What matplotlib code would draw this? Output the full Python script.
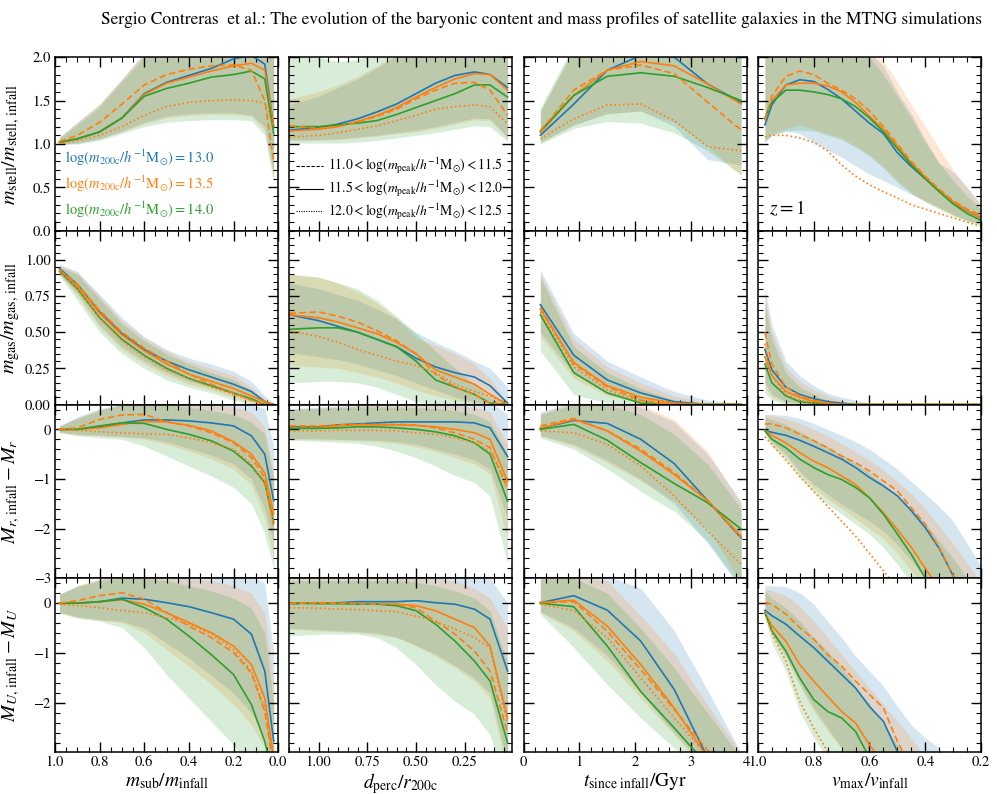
import numpy as np
import matplotlib.pyplot as plt
from matplotlib.lines import Line2D
from matplotlib.ticker import MultipleLocator

plt.rcParams['font.family'] = 'STIXGeneral'
plt.rcParams['mathtext.fontset'] = 'stix'
plt.rcParams['axes.linewidth'] = 1.1

blue, orange, green = '#1f77b4', '#ff7f0e', '#2ca02c'

# x grids of the four columns
x_sub = [0.98, 0.9, 0.8, 0.7, 0.6, 0.5, 0.4, 0.3, 0.2, 0.12, 0.06, 0.02]
x_perc = [1.15, 1.0, 0.9, 0.8, 0.7, 0.6, 0.5, 0.4, 0.3, 0.2, 0.12, 0.03]
x_time = [0.3, 0.9, 1.5, 2.1, 2.7, 3.3, 3.9]
x_vmax = [0.975, 0.95, 0.9, 0.85, 0.8, 0.75, 0.7, 0.65, 0.6, 0.55, 0.5, 0.45, 0.4, 0.35, 0.3, 0.25, 0.2]

# keys: b/o/g = median for log m200c 13.0/13.5/14.0 (11.5-12.0 bin),
# od/ot = orange 11.0-11.5 (dashed) and 12.0-12.5 (dotted), *_lo/*_hi = bands
# ---- row 1: stellar mass
stell_sub = dict(
    b=[1.02, 1.06, 1.14, 1.30, 1.58, 1.71, 1.79, 1.87, 1.98, 2.02, 1.92, 1.20],
    o=[1.02, 1.06, 1.14, 1.30, 1.57, 1.70, 1.77, 1.84, 1.90, 1.93, 1.85, 1.20],
    g=[1.02, 1.06, 1.14, 1.30, 1.55, 1.64, 1.70, 1.77, 1.80, 1.84, 1.75, 1.12],
    od=[1.03, 1.10, 1.25, 1.46, 1.68, 1.80, 1.86, 1.90, 1.91, 1.85, 1.50, 0.80],
    ot=[1.01, 1.04, 1.10, 1.20, 1.33, 1.43, 1.48, 1.50, 1.51, 1.50, 1.47, 1.20],
    b_lo=[1.0, 1.01, 1.06, 1.15, 1.25, 1.32, 1.35, 1.36, 1.36, 1.33, 1.2, 0.65],
    b_hi=[1.08, 1.25, 1.46, 1.75, 2.05, 2.3, 2.5, 2.6, 2.7, 2.7, 2.6, 2.1],
    o_lo=[1.0, 1.01, 1.06, 1.14, 1.23, 1.3, 1.33, 1.34, 1.34, 1.32, 1.15, 0.6],
    o_hi=[1.08, 1.25, 1.46, 1.75, 2.05, 2.3, 2.5, 2.6, 2.7, 2.7, 2.6, 2.1],
    g_lo=[0.99, 1.0, 1.04, 1.12, 1.2, 1.25, 1.27, 1.28, 1.28, 1.27, 1.1, 0.55],
    g_hi=[1.07, 1.22, 1.43, 1.72, 2.0, 2.25, 2.45, 2.55, 2.6, 2.6, 2.5, 2.0],
)
stell_perc = dict(
    b=[1.16, 1.19, 1.23, 1.29, 1.37, 1.46, 1.58, 1.70, 1.79, 1.83, 1.80, 1.65],
    o=[1.15, 1.17, 1.20, 1.26, 1.33, 1.42, 1.54, 1.65, 1.75, 1.81, 1.80, 1.62],
    g=[1.20, 1.20, 1.22, 1.24, 1.27, 1.34, 1.42, 1.50, 1.58, 1.68, 1.68, 1.54],
    od=[1.21, 1.18, 1.20, 1.25, 1.32, 1.40, 1.52, 1.62, 1.70, 1.71, 1.62, 1.33],
    ot=[1.08, 1.10, 1.13, 1.17, 1.21, 1.27, 1.33, 1.40, 1.43, 1.45, 1.43, 1.23],
    b_lo=[1.05, 1.05, 1.06, 1.08, 1.1, 1.13, 1.16, 1.2, 1.25, 1.3, 1.29, 1.08],
    b_hi=[1.45, 1.55, 1.65, 1.75, 1.88, 2.02, 2.2, 2.3, 2.4, 2.4, 2.4, 2.3],
    o_lo=[1.04, 1.04, 1.05, 1.07, 1.09, 1.12, 1.14, 1.18, 1.23, 1.28, 1.27, 1.06],
    o_hi=[1.52, 1.6, 1.68, 1.78, 1.9, 2.05, 2.2, 2.3, 2.4, 2.4, 2.4, 2.3],
    g_lo=[1.01, 1.01, 1.01, 1.02, 1.04, 1.07, 1.1, 1.13, 1.17, 1.21, 1.2, 1.03],
    g_hi=[2.05, 2.0, 1.95, 1.97, 2.1, 2.2, 2.3, 2.4, 2.5, 2.5, 2.5, 2.4],
)
stell_time = dict(
    b=[1.10, 1.46, 1.85, 2.02, 2.00, 1.69, 1.48],
    o=[1.13, 1.56, 1.85, 1.95, 1.90, 1.69, 1.46],
    g=[1.15, 1.56, 1.78, 1.82, 1.78, 1.65, 1.50],
    od=[1.15, 1.62, 1.85, 1.91, 1.81, 1.48, 1.16],
    ot=[1.06, 1.29, 1.45, 1.46, 1.27, 0.97, 0.92],
    b_lo=[1.02, 1.22, 1.35, 1.38, 1.2, 0.82, 0.76],
    b_hi=[1.38, 2.1, 2.5, 2.6, 2.6, 2.5, 2.4],
    o_lo=[1.02, 1.22, 1.35, 1.38, 1.25, 0.97, 0.63],
    o_hi=[1.38, 2.1, 2.5, 2.6, 2.6, 2.5, 2.4],
    g_lo=[1.0, 1.18, 1.26, 1.24, 1.13, 0.92, 0.65],
    g_hi=[1.42, 2.15, 2.5, 2.6, 2.6, 2.5, 2.4],
)
stell_vmax = dict(
    b=[1.22, 1.45, 1.68, 1.74, 1.72, 1.63, 1.52, 1.38, 1.24, 1.12, 0.90, 0.74, 0.60, 0.46, 0.33, 0.23, 0.15],
    o=[1.28, 1.50, 1.68, 1.70, 1.70, 1.67, 1.60, 1.48, 1.32, 1.17, 0.98, 0.78, 0.62, 0.46, 0.33, 0.23, 0.15],
    g=[1.30, 1.48, 1.62, 1.62, 1.60, 1.57, 1.52, 1.43, 1.30, 1.14, 0.95, 0.76, 0.60, 0.45, 0.31, 0.20, 0.12],
    od=[1.28, 1.55, 1.78, 1.84, 1.80, 1.70, 1.62, 1.52, 1.38, 1.20, 1.00, 0.80, 0.63, 0.48, 0.35, 0.25, 0.18],
    ot=[1.08, 1.10, 1.10, 1.07, 1.02, 0.92, 0.76, 0.63, 0.53, 0.45, 0.38, 0.30, 0.25, 0.20, 0.15, 0.10, 0.05],
    b_lo=[1.02, 1.1, 1.15, 1.12, 1.02, 0.93, 0.85, 0.75, 0.65, 0.58, 0.5, 0.42, 0.35, 0.27, 0.19, 0.12, 0.08],
    b_hi=[2.3, 2.5, 2.6, 2.6, 2.6, 2.5, 2.4, 2.2, 2.05, 1.9, 1.6, 1.35, 1.05, 0.78, 0.68, 0.5, 0.3],
    o_lo=[1.04, 1.12, 1.18, 1.22, 1.17, 1.12, 1.07, 0.98, 0.88, 0.74, 0.58, 0.44, 0.34, 0.26, 0.18, 0.12, 0.07],
    o_hi=[2.3, 2.5, 2.6, 2.6, 2.6, 2.5, 2.4, 2.25, 2.1, 1.95, 1.72, 1.45, 1.2, 0.95, 0.7, 0.5, 0.3],
    g_lo=[1.03, 1.1, 1.15, 1.16, 1.15, 1.1, 1.05, 0.96, 0.86, 0.72, 0.56, 0.43, 0.33, 0.25, 0.17, 0.11, 0.06],
    g_hi=[2.3, 2.5, 2.6, 2.6, 2.5, 2.4, 2.3, 2.15, 2.0, 1.8, 1.55, 1.3, 1.02, 0.78, 0.58, 0.4, 0.25],
)

# ---- row 2: gas mass
gas_sub = dict(
    b=[0.94, 0.83, 0.64, 0.49, 0.38, 0.30, 0.24, 0.19, 0.14, 0.09, 0.02, 0.0],
    o=[0.93, 0.82, 0.63, 0.48, 0.37, 0.28, 0.21, 0.16, 0.11, 0.06, 0.02, 0.0],
    g=[0.92, 0.80, 0.60, 0.45, 0.34, 0.25, 0.18, 0.13, 0.08, 0.04, 0.0, 0.0],
    od=[0.93, 0.83, 0.65, 0.50, 0.39, 0.30, 0.21, 0.14, 0.08, 0.03, 0.0, 0.0],
    ot=[0.92, 0.80, 0.60, 0.44, 0.33, 0.24, 0.18, 0.12, 0.07, 0.03, 0.0, 0.0],
    b_lo=[0.9, 0.77, 0.55, 0.4, 0.3, 0.22, 0.16, 0.12, 0.07, 0.03, 0.0, 0.0],
    b_hi=[0.97, 0.92, 0.76, 0.6, 0.47, 0.38, 0.32, 0.28, 0.23, 0.16, 0.06, 0.01],
    o_lo=[0.9, 0.75, 0.53, 0.38, 0.28, 0.2, 0.14, 0.1, 0.05, 0.01, 0.0, 0.0],
    o_hi=[0.96, 0.91, 0.75, 0.58, 0.46, 0.37, 0.3, 0.25, 0.2, 0.12, 0.04, 0.0],
    g_lo=[0.89, 0.72, 0.5, 0.35, 0.25, 0.17, 0.12, 0.08, 0.03, 0.0, 0.0, 0.0],
    g_hi=[0.95, 0.9, 0.73, 0.56, 0.44, 0.35, 0.28, 0.22, 0.17, 0.1, 0.03, 0.0],
)
gas_perc = dict(
    b=[0.62, 0.58, 0.54, 0.50, 0.45, 0.40, 0.32, 0.26, 0.22, 0.19, 0.13, 0.01],
    o=[0.62, 0.60, 0.57, 0.53, 0.49, 0.43, 0.35, 0.24, 0.19, 0.14, 0.07, 0.0],
    g=[0.52, 0.53, 0.53, 0.50, 0.45, 0.40, 0.30, 0.17, 0.12, 0.07, 0.01, 0.0],
    od=[0.63, 0.64, 0.61, 0.57, 0.51, 0.44, 0.35, 0.21, 0.12, 0.07, 0.01, 0.0],
    ot=[0.51, 0.47, 0.43, 0.38, 0.34, 0.30, 0.27, 0.22, 0.14, 0.09, 0.06, 0.0],
    b_lo=[0.36, 0.33, 0.31, 0.28, 0.24, 0.2, 0.15, 0.1, 0.05, 0.02, 0.0, 0.0],
    b_hi=[0.84, 0.8, 0.76, 0.72, 0.66, 0.59, 0.5, 0.43, 0.37, 0.3, 0.25, 0.12],
    o_lo=[0.27, 0.26, 0.25, 0.22, 0.19, 0.15, 0.1, 0.06, 0.03, 0.01, 0.0, 0.0],
    o_hi=[0.9, 0.88, 0.84, 0.78, 0.7, 0.6, 0.46, 0.41, 0.35, 0.28, 0.18, 0.01],
    g_lo=[0.15, 0.16, 0.16, 0.15, 0.12, 0.07, 0.02, 0.0, 0.0, 0.0, 0.0, 0.0],
    g_hi=[0.9, 0.88, 0.84, 0.8, 0.72, 0.61, 0.49, 0.37, 0.25, 0.14, 0.05, 0.0],
)
gas_time = dict(
    b=[0.69, 0.34, 0.17, 0.08, 0.02, 0.0, 0.0],
    o=[0.66, 0.29, 0.13, 0.05, 0.01, 0.0, 0.0],
    g=[0.62, 0.22, 0.08, 0.01, 0.0, 0.0, 0.0],
    od=[0.67, 0.28, 0.12, 0.03, 0.0, 0.0, 0.0],
    ot=[0.64, 0.26, 0.10, 0.02, 0.0, 0.0, 0.0],
    b_lo=[0.5, 0.21, 0.08, 0.02, 0.0, 0.0, 0.0],
    b_hi=[0.93, 0.49, 0.3, 0.19, 0.09, 0.03, 0.01],
    o_lo=[0.47, 0.18, 0.06, 0.01, 0.0, 0.0, 0.0],
    o_hi=[0.9, 0.45, 0.26, 0.15, 0.06, 0.01, 0.0],
    g_lo=[0.37, 0.07, 0.01, 0.0, 0.0, 0.0, 0.0],
    g_hi=[0.88, 0.4, 0.22, 0.11, 0.03, 0.0, 0.0],
)
gas_vmax = dict(
    b=[0.38, 0.24, 0.12, 0.07, 0.04, 0.02, 0.01] + [0.0] * 10,
    o=[0.33, 0.20, 0.09, 0.05, 0.02, 0.01, 0.0] + [0.0] * 10,
    g=[0.28, 0.15, 0.06, 0.02, 0.01, 0.0, 0.0] + [0.0] * 10,
    od=[0.50, 0.28, 0.12, 0.06, 0.03, 0.01, 0.0] + [0.0] * 10,
    ot=[0.42, 0.20, 0.07, 0.03, 0.01, 0.0, 0.0] + [0.0] * 10,
    b_lo=[0.15, 0.07, 0.02, 0.01, 0.0, 0.0, 0.0] + [0.0] * 10,
    b_hi=[0.8, 0.55, 0.3, 0.2, 0.13, 0.08, 0.05, 0.03, 0.01] + [0.0] * 8,
    o_lo=[0.12, 0.05, 0.01, 0.0, 0.0, 0.0, 0.0] + [0.0] * 10,
    o_hi=[0.75, 0.5, 0.26, 0.16, 0.1, 0.06, 0.03, 0.01, 0.0] + [0.0] * 8,
    g_lo=[0.08, 0.03, 0.0, 0.0, 0.0, 0.0, 0.0] + [0.0] * 10,
    g_hi=[0.7, 0.45, 0.22, 0.12, 0.07, 0.03, 0.01, 0.0, 0.0] + [0.0] * 8,
)

# ---- row 3: r-band magnitude change
mr_sub = dict(
    b=[0.0, 0.0, 0.05, 0.13, 0.19, 0.19, 0.17, 0.13, 0.07, -0.13, -0.5, -1.44],
    o=[0.0, 0.0, 0.03, 0.10, 0.16, 0.15, 0.08, -0.03, -0.25, -0.50, -0.88, -1.70],
    g=[0.0, 0.0, 0.07, 0.13, 0.12, 0.0, -0.10, -0.23, -0.44, -0.74, -1.07, -1.88],
    od=[0.0, 0.03, 0.20, 0.29, 0.30, 0.15, 0.07, -0.07, -0.27, -0.57, -0.97, -1.98],
    ot=[0.0, -0.02, -0.05, -0.07, -0.09, -0.10, -0.17, -0.27, -0.40, -0.70, -1.10, -1.90],
    b_lo=[-0.05, -0.1, -0.12, -0.14, -0.17, -0.25, -0.38, -0.52, -0.7, -1.0, -1.6, -2.3],
    b_hi=[0.07, 0.25, 0.42, 0.5, 0.55, 0.55, 0.55, 0.55, 0.52, 0.5, 0.42, -0.35],
    o_lo=[-0.06, -0.11, -0.13, -0.16, -0.2, -0.3, -0.44, -0.6, -0.8, -1.12, -1.8, -2.6],
    o_hi=[0.07, 0.23, 0.4, 0.5, 0.55, 0.55, 0.55, 0.5, 0.45, 0.35, 0.05, -0.9],
    g_lo=[-0.07, -0.13, -0.17, -0.2, -0.34, -0.54, -0.74, -0.94, -1.17, -1.5, -2.1, -2.8],
    g_hi=[0.07, 0.22, 0.38, 0.5, 0.52, 0.5, 0.45, 0.38, 0.3, 0.15, -0.1, -1.0],
)
mr_perc = dict(
    b=[0.05, 0.05, 0.09, 0.11, 0.13, 0.15, 0.15, 0.15, 0.15, 0.13, 0.03, -0.55],
    o=[0.03, 0.04, 0.07, 0.09, 0.09, 0.09, 0.08, 0.05, 0.0, -0.07, -0.20, -1.05],
    g=[0.02, 0.02, 0.03, 0.05, 0.05, 0.03, 0.0, -0.05, -0.13, -0.27, -0.50, -1.45],
    od=[0.07, 0.07, 0.09, 0.10, 0.10, 0.10, 0.09, 0.03, -0.07, -0.20, -0.37, -1.20],
    ot=[-0.03, -0.03, -0.02, -0.02, -0.02, -0.03, -0.07, -0.10, -0.17, -0.27, -0.44, -1.10],
    b_lo=[-0.18, -0.19, -0.2, -0.21, -0.22, -0.25, -0.3, -0.4, -0.5, -0.62, -0.8, -1.8],
    b_hi=[0.42, 0.45, 0.47, 0.5, 0.5, 0.5, 0.52, 0.55, 0.55, 0.55, 0.55, 0.3],
    o_lo=[-0.2, -0.21, -0.22, -0.23, -0.25, -0.28, -0.35, -0.45, -0.57, -0.7, -0.9, -2.2],
    o_hi=[0.4, 0.43, 0.45, 0.48, 0.5, 0.5, 0.5, 0.5, 0.48, 0.45, 0.35, -0.3],
    g_lo=[-0.22, -0.24, -0.26, -0.28, -0.34, -0.44, -0.57, -0.74, -0.93, -1.07, -1.35, -2.7],
    g_hi=[0.4, 0.42, 0.44, 0.45, 0.45, 0.45, 0.44, 0.42, 0.38, 0.3, 0.15, -0.5],
)
mr_time = dict(
    b=[0.02, 0.18, 0.12, -0.20, -0.69, -1.44, -2.19],
    o=[0.02, 0.20, -0.03, -0.44, -0.91, -1.44, -2.15],
    g=[0.0, 0.10, -0.22, -0.67, -1.09, -1.48, -2.01],
    od=[0.07, 0.22, -0.03, -0.40, -0.87, -1.44, -2.18],
    ot=[-0.03, -0.07, -0.30, -0.74, -1.34, -2.05, -2.72],
    b_lo=[-0.12, -0.3, -0.62, -1.0, -1.5, -2.3, -3.2],
    b_hi=[0.35, 0.55, 0.55, 0.45, 0.15, -0.5, -1.45],
    o_lo=[-0.13, -0.34, -0.67, -1.04, -1.44, -2.0, -3.1],
    o_hi=[0.32, 0.55, 0.55, 0.5, 0.2, -0.45, -1.5],
    g_lo=[-0.17, -0.4, -0.8, -1.25, -1.65, -2.25, -3.2],
    g_hi=[0.3, 0.5, 0.5, 0.3, -0.1, -0.7, -1.6],
)
mr_vmax = dict(
    b=[-0.02, -0.06, -0.12, -0.22, -0.34, -0.47, -0.6, -0.77, -0.97, -1.14, -1.34, -1.64, -1.98, -2.4, -2.95, -3.5, -4.0],
    o=[-0.02, -0.12, -0.27, -0.47, -0.64, -0.77, -0.94, -1.11, -1.38, -1.68, -2.02, -2.38, -2.8, -3.2, -3.6, -4.0, -4.4],
    g=[-0.03, -0.2, -0.37, -0.6, -0.77, -0.91, -1.01, -1.17, -1.38, -1.71, -2.11, -2.52, -3.0, -3.4, -3.8, -4.2, -4.6],
    od=[0.11, 0.11, 0.03, -0.1, -0.23, -0.37, -0.54, -0.67, -0.84, -1.04, -1.24, -1.58, -1.91, -2.38, -2.95, -3.5, -4.0],
    ot=[-0.15, -0.3, -0.62, -0.95, -1.25, -1.55, -1.85, -2.15, -2.5, -2.85, -3.2, -3.5, -3.8, -4.1, -4.4, -4.7, -5.0],
    b_lo=[-0.06, -0.25, -0.5, -0.84, -1.11, -1.31, -1.51, -1.68, -1.85, -2.05, -2.32, -2.65, -3.0, -3.4, -3.8, -4.2, -4.6],
    b_hi=[0.3, 0.3, 0.28, 0.22, 0.12, 0.0, -0.12, -0.25, -0.4, -0.6, -0.8, -1.05, -1.3, -1.55, -1.85, -2.3, -2.75],
    o_lo=[-0.07, -0.28, -0.55, -0.9, -1.18, -1.4, -1.6, -1.8, -2.0, -2.2, -2.5, -2.85, -3.2, -3.6, -4.0, -4.4, -4.8],
    o_hi=[0.3, 0.28, 0.22, 0.12, 0.0, -0.12, -0.28, -0.45, -0.62, -0.82, -1.05, -1.3, -1.6, -1.95, -2.3, -2.7, -3.1],
    g_lo=[-0.1, -0.35, -0.6, -0.97, -1.27, -1.51, -1.71, -1.91, -2.11, -2.38, -2.72, -3.1, -3.5, -3.9, -4.3, -4.7, -5.1],
    g_hi=[0.25, 0.2, 0.1, -0.05, -0.2, -0.35, -0.5, -0.68, -0.88, -1.1, -1.35, -1.6, -1.9, -2.25, -2.6, -3.0, -3.4],
)

# ---- row 4: U-band magnitude change
mu_sub = dict(
    b=[0.0, 0.0, 0.03, 0.10, 0.08, 0.01, -0.07, -0.19, -0.32, -0.62, -1.36, -2.77],
    o=[0.0, 0.0, 0.03, 0.07, -0.02, -0.19, -0.39, -0.59, -0.86, -1.23, -1.90, -3.1],
    g=[0.0, 0.0, 0.03, 0.08, -0.09, -0.32, -0.66, -1.03, -1.43, -2.03, -2.77, -3.5],
    od=[0.0, 0.05, 0.15, 0.21, 0.08, -0.19, -0.46, -0.69, -0.99, -1.40, -2.17, -3.3],
    ot=[-0.02, -0.05, -0.09, -0.15, -0.19, -0.29, -0.42, -0.62, -0.93, -1.36, -2.10, -3.2],
    b_lo=[-0.17, -0.27, -0.33, -0.36, -0.5, -0.8, -1.1, -1.45, -1.8, -2.2, -2.7, -3.3],
    b_hi=[0.18, 0.35, 0.48, 0.55, 0.55, 0.55, 0.55, 0.55, 0.55, 0.55, 0.4, -1.0],
    o_lo=[-0.19, -0.29, -0.34, -0.39, -0.59, -0.93, -1.26, -1.63, -2.03, -2.44, -2.9, -3.5],
    o_hi=[0.18, 0.35, 0.48, 0.55, 0.55, 0.55, 0.5, 0.45, 0.35, 0.2, -0.2, -1.6],
    g_lo=[-0.2, -0.3, -0.36, -0.49, -0.89, -1.43, -1.9, -2.37, -2.84, -3.3, -3.7, -4.0],
    g_hi=[0.18, 0.33, 0.45, 0.5, 0.5, 0.45, 0.35, 0.25, 0.1, -0.1, -0.6, -2.0],
)
mu_perc = dict(
    b=[0.0, 0.0, 0.01, 0.03, 0.03, 0.03, 0.05, 0.01, -0.02, -0.12, -0.32, -1.36],
    o=[0.0, 0.0, 0.0, -0.01, -0.02, -0.02, -0.05, -0.15, -0.32, -0.49, -0.86, -2.3],
    g=[0.0, -0.01, -0.01, -0.02, -0.02, -0.05, -0.15, -0.42, -0.76, -1.16, -1.56, -2.8],
    od=[0.0, 0.0, 0.0, -0.01, -0.02, -0.02, -0.09, -0.36, -0.62, -0.96, -1.36, -2.6],
    ot=[-0.09, -0.1, -0.12, -0.13, -0.15, -0.17, -0.26, -0.36, -0.52, -0.69, -0.89, -2.4],
    b_lo=[-0.5, -0.53, -0.55, -0.57, -0.6, -0.68, -0.84, -1.02, -1.25, -1.5, -1.8, -3.2],
    b_hi=[0.55, 0.55, 0.55, 0.55, 0.55, 0.55, 0.55, 0.55, 0.55, 0.55, 0.5, 0.0],
    o_lo=[-0.52, -0.56, -0.57, -0.59, -0.63, -0.69, -0.86, -1.06, -1.3, -1.56, -1.9, -3.4],
    o_hi=[0.52, 0.52, 0.52, 0.52, 0.52, 0.52, 0.52, 0.5, 0.45, 0.3, 0.1, -0.5],
    g_lo=[-0.66, -0.62, -0.62, -0.62, -0.69, -0.89, -1.23, -1.63, -1.97, -2.23, -2.64, -3.8],
    g_hi=[0.45, 0.45, 0.45, 0.45, 0.45, 0.45, 0.42, 0.35, 0.25, 0.1, -0.15, -1.2],
)
mu_time = dict(
    b=[0.01, 0.15, -0.14, -0.76, -1.73, -3.1, -4.3],
    o=[0.01, 0.06, -0.46, -1.23, -2.10, -3.1, -4.2],
    g=[0.0, -0.07, -0.86, -1.77, -2.50, -3.25, -4.0],
    od=[0.01, 0.03, -0.56, -1.33, -2.13, -2.95, -4.0],
    ot=[-0.02, -0.15, -0.69, -1.50, -2.30, -3.07, -4.0],
    b_lo=[-0.17, -0.5, -1.05, -1.8, -2.6, -3.3, -4.2],
    b_hi=[0.5, 0.55, 0.55, 0.3, -0.55, -1.75, -3.0],
    o_lo=[-0.19, -0.56, -1.16, -1.9, -2.64, -3.4, -4.3],
    o_hi=[0.5, 0.55, 0.45, -0.25, -1.0, -2.05, -3.0],
    g_lo=[-0.22, -0.89, -1.63, -2.3, -2.9, -3.5, -4.5],
    g_hi=[0.48, 0.5, 0.2, -0.5, -1.3, -2.2, -3.1],
)
mu_vmax = dict(
    b=[-0.14, -0.25, -0.42, -0.66, -0.89, -1.16, -1.43, -1.70, -2.07, -2.37, -2.97, -3.4, -3.8, -4.2, -4.6, -5.0, -5.4],
    o=[-0.19, -0.45, -0.76, -1.23, -1.56, -1.87, -2.17, -2.40, -2.84, -3.2, -3.6, -4.0, -4.4, -4.8, -5.2, -5.6, -6.0],
    g=[-0.19, -0.55, -0.96, -1.50, -1.93, -2.17, -2.30, -2.57, -3.1, -3.5, -3.9, -4.3, -4.7, -5.1, -5.5, -5.9, -6.3],
    od=[0.01, -0.02, -0.22, -0.49, -0.72, -1.03, -1.26, -1.56, -1.83, -2.10, -2.77, -3.3, -3.7, -4.1, -4.5, -4.9, -5.3],
    ot=[-0.19, -0.6, -1.16, -1.97, -2.5, -2.97, -3.4, -3.8, -4.2, -4.6, -5.0, -5.4, -5.8, -6.2, -6.6, -7.0, -7.4],
    b_lo=[-0.24, -0.6, -1.05, -1.6, -2.1, -2.5, -2.9, -3.3, -3.7, -4.1, -4.5, -4.9, -5.3, -5.7, -6.1, -6.5, -6.9],
    b_hi=[0.35, 0.35, 0.33, 0.21, -0.02, -0.36, -0.69, -1.06, -1.36, -1.66, -2.07, -2.44, -2.7, -2.9, -3.3, -3.7, -4.1],
    o_lo=[-0.26, -0.65, -1.09, -1.66, -2.17, -2.57, -2.9, -3.3, -3.7, -4.1, -4.5, -4.9, -5.3, -5.7, -6.1, -6.5, -6.9],
    o_hi=[0.28, 0.25, 0.15, -0.05, -0.36, -0.69, -1.03, -1.36, -1.7, -2.03, -2.37, -2.7, -3.1, -3.5, -3.9, -4.3, -4.7],
    g_lo=[-0.29, -0.8, -1.36, -2.17, -2.7, -3.1, -3.5, -3.9, -4.3, -4.7, -5.1, -5.5, -5.9, -6.3, -6.7, -7.1, -7.5],
    g_hi=[0.25, 0.1, -0.09, -0.36, -0.69, -0.96, -1.3, -1.66, -2.03, -2.44, -2.84, -3.2, -3.6, -4.0, -4.4, -4.8, -5.2],
)

xs = [x_sub, x_perc, x_time, x_vmax]
panels = [[stell_sub, stell_perc, stell_time, stell_vmax],
          [gas_sub, gas_perc, gas_time, gas_vmax],
          [mr_sub, mr_perc, mr_time, mr_vmax],
          [mu_sub, mu_perc, mu_time, mu_vmax]]

ylabels = [r'$m_{\rm stell}/m_{\rm stell,\,infall}$', r'$m_{\rm gas}/m_{\rm gas,\,infall}$',
           r'$M_{r,\,{\rm infall}}-M_r$', r'$M_{U,\,{\rm infall}}-M_U$']
xlabels = [r'$m_{\rm sub}/m_{\rm infall}$', r'$d_{\rm perc}/r_{\rm 200c}$',
           r'$t_{\rm since\ infall}/{\rm Gyr}$', r'$v_{\rm max}/v_{\rm infall}$']
ylims = [(0, 2), (0, 1.2), (-3, 0.5), (-2.98, 0.5)]
ymaj = [0.5, 0.25, 1, 1]
ymin = [0.1, 0.05, 0.2, 0.2]
xlims = [(1.0, 0.0), (1.15, 0.005), (0, 4), (1.0, 0.2)]
xmaj = [0.2, 0.25, 1, 0.2]
xmin = [0.05, 0.05, 0.2, 0.05]

fig, axes = plt.subplots(4, 4, figsize=(9.97, 7.94), dpi=100, sharex='col', sharey='row')
fig.subplots_adjust(left=0.0552, right=0.984, top=0.928, bottom=0.053, wspace=0.05, hspace=0)

for i in range(4):
    for j in range(4):
        ax = axes[i, j]
        x = xs[j]
        d = panels[i][j]
        for k, c in (('b', blue), ('o', orange), ('g', green)):
            ax.fill_between(x, d[k + '_lo'], d[k + '_hi'], color=c, alpha=0.18, lw=0)
        ax.plot(x, d['b'], color=blue, lw=1.2)
        ax.plot(x, d['o'], color=orange, lw=1.2)
        ax.plot(x, d['g'], color=green, lw=1.2)
        ax.plot(x, d['od'], color=orange, lw=1.2, ls=(0, (4, 2)))
        ax.plot(x, d['ot'], color=orange, lw=1.2, ls=(0, (1, 1.6)))
        ax.set_xlim(*xlims[j])
        ax.set_ylim(*ylims[i])
        ax.xaxis.set_major_locator(MultipleLocator(xmaj[j]))
        ax.xaxis.set_minor_locator(MultipleLocator(xmin[j]))
        ax.yaxis.set_major_locator(MultipleLocator(ymaj[i]))
        ax.yaxis.set_minor_locator(MultipleLocator(ymin[i]))
        ax.tick_params(which='both', direction='in', top=True, right=True, labelsize=10.5, pad=3)
        ax.tick_params(which='major', length=7, width=1)
        ax.tick_params(which='minor', length=3.5, width=0.8)
        if j == 0:
            ax.set_ylabel(ylabels[i], fontsize=14.5, labelpad=2)
        if i == 3:
            ax.set_xlabel(xlabels[j], fontsize=14, labelpad=1)

fig.align_ylabels(axes[:, 0])

mass_labels = [r'$\log(m_{\rm 200c}/h^{-1}{\rm M}_{\odot})=13.0$',
               r'$\log(m_{\rm 200c}/h^{-1}{\rm M}_{\odot})=13.5$',
               r'$\log(m_{\rm 200c}/h^{-1}{\rm M}_{\odot})=14.0$']
for lab, c, yy in zip(mass_labels, [blue, orange, green], [0.42, 0.27, 0.12]):
    axes[0, 0].text(0.045, yy, lab, color=c, fontsize=10.5, transform=axes[0, 0].transAxes, va='center')

peak_labels = [r'$11.0<\log(m_{\rm peak}/h^{-1}{\rm M}_{\odot})<11.5$',
               r'$11.5<\log(m_{\rm peak}/h^{-1}{\rm M}_{\odot})<12.0$',
               r'$12.0<\log(m_{\rm peak}/h^{-1}{\rm M}_{\odot})<12.5$']
handles = [Line2D([], [], color='k', lw=0.8, ls=(0, (3, 1.5))),
           Line2D([], [], color='k', lw=0.8, ls='-'),
           Line2D([], [], color='k', lw=0.8, ls=(0, (1, 1.2)))]
axes[0, 1].legend(handles, peak_labels, loc='lower right', frameon=False, fontsize=9.8,
                  handlelength=2.0, handletextpad=0.4, labelspacing=0.2, borderaxespad=0.25)

axes[0, 3].text(0.05, 0.13, r'$z=1$', fontsize=14, transform=axes[0, 3].transAxes, va='center')

fig.suptitle('Sergio Contreras  et al.: The evolution of the baryonic content and mass profiles '
             'of satellite galaxies in the MTNG simulations', x=0.543, y=0.985, fontsize=12.5)

plt.savefig('out.png', dpi=100)
